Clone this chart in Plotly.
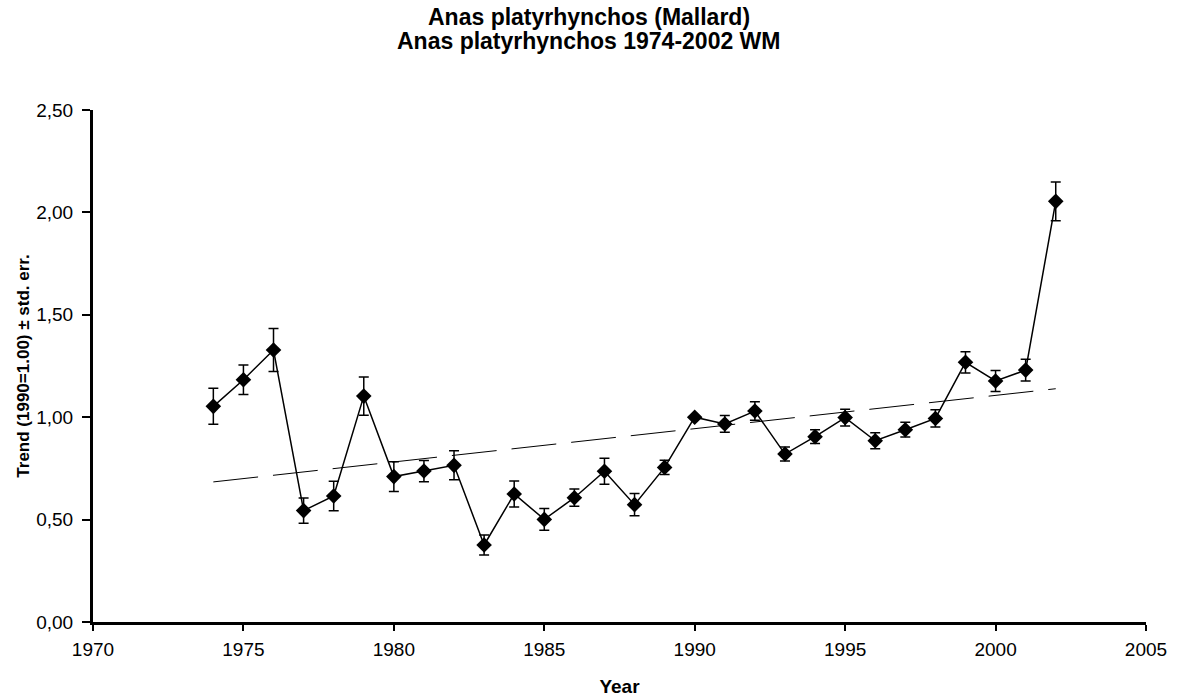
import plotly.graph_objects as go

years = list(range(1974, 2003))
trend = [1.053, 1.183, 1.328, 0.544, 0.615, 1.103, 0.710, 0.737, 0.765, 0.376,
         0.625, 0.501, 0.607, 0.736, 0.573, 0.755, 1.000, 0.967, 1.030, 0.820,
         0.905, 0.998, 0.885, 0.939, 0.994, 1.268, 1.177, 1.230, 2.054]
std_err = [0.088, 0.072, 0.105, 0.062, 0.072, 0.093, 0.073, 0.052, 0.071, 0.049,
           0.063, 0.053, 0.042, 0.063, 0.054, 0.035, 0.0, 0.041, 0.045, 0.034,
           0.034, 0.041, 0.039, 0.036, 0.042, 0.052, 0.051, 0.053, 0.095]
trend_line_years = [1974, 2002]
trend_line_values = [0.684, 1.139]

title_line1 = "Anas platyrhynchos (Mallard)"
title_line2 = "Anas platyrhynchos 1974-2002 WM"

FONT = "Arial, Liberation Sans, sans-serif"

W, H = 1177, 697
L, R, T, B = 93, 31, 110, 75
plot_w = W - L - R
plot_h = H - T - B

fig = go.Figure()
fig.add_trace(go.Scatter(
    x=trend_line_years, y=trend_line_values, mode="lines",
    line=dict(color="black", width=1, dash="45px,15px"),
    hoverinfo="skip", showlegend=False))
fig.add_trace(go.Scatter(
    x=years, y=trend, mode="lines+markers",
    line=dict(color="black", width=1.5),
    marker=dict(symbol="diamond", size=12, color="black"),
    error_y=dict(type="data", array=std_err, visible=True,
                 color="black", thickness=1.5, width=5),
    showlegend=False))

title_x = (W / 2 - L) / plot_w
fig.update_layout(
    width=W, height=H,
    margin=dict(l=L, r=R, t=T, b=B),
    paper_bgcolor="white", plot_bgcolor="white",
    separators=", ",
    font=dict(family=FONT, color="black", size=18),
    annotations=[
        dict(text="<b>%s</b>" % title_line1, xref="paper", yref="paper",
             x=title_x, y=(H - B - 17) / plot_h, xanchor="center", yanchor="middle",
             showarrow=False, font=dict(size=23, family=FONT, color="black")),
        dict(text="<b>%s</b>" % title_line2, xref="paper", yref="paper",
             x=title_x, y=(H - B - 41) / plot_h, xanchor="center", yanchor="middle",
             showarrow=False, font=dict(size=23, family=FONT, color="black")),
    ],
)
fig.update_xaxes(
    range=[1970, 2005], tick0=1970, dtick=5, showgrid=False, zeroline=False,
    showline=True, linecolor="black", linewidth=3, automargin=False,
    ticks="outside", ticklen=6, tickwidth=2, tickcolor="black",
    ticklabelstandoff=2,
    tickfont=dict(size=19),
    title=dict(text="<b>Year</b>", font=dict(size=19), standoff=27))
fig.update_yaxes(
    range=[0, 2.5], tick0=0, dtick=0.5, tickformat=".2f",
    showgrid=False, zeroline=False, automargin=False,
    showline=True, linecolor="black", linewidth=3,
    ticks="outside", ticklen=8, tickwidth=2, tickcolor="black",
    ticklabelstandoff=5,
    tickfont=dict(size=19),
    title=dict(text="<b>Trend (1990=1.00) ± std. err.</b>", font=dict(size=17), standoff=3))

fig.write_html("out.html",
               config={"displayModeBar": False},
               post_script="document.body.style.margin='0';document.body.style.overflow='hidden';")
